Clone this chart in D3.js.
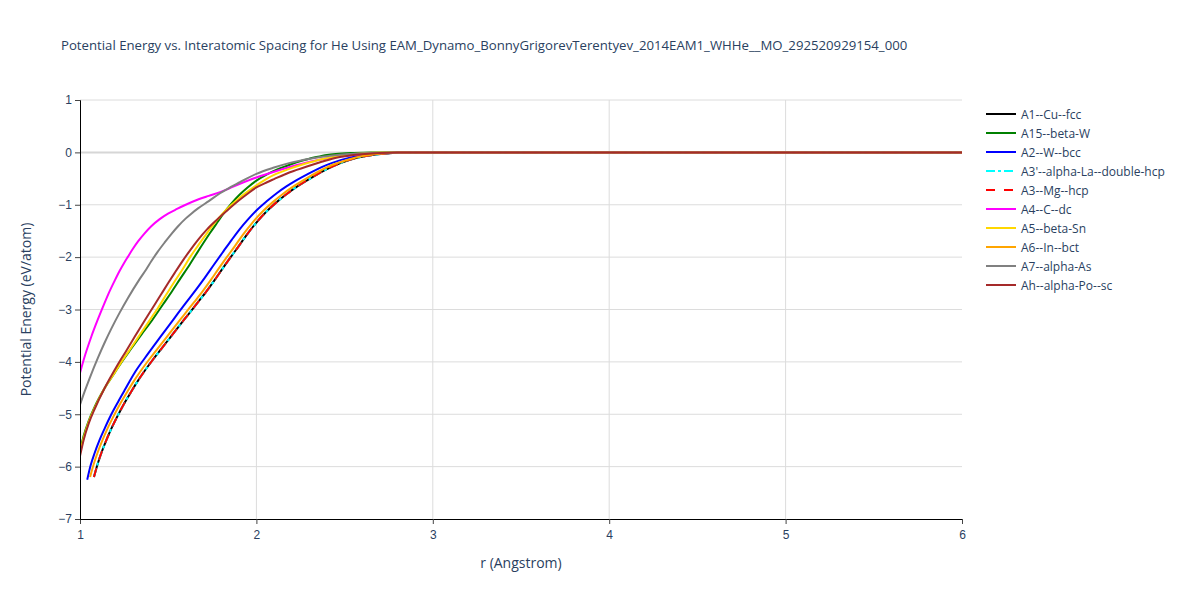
<!DOCTYPE html>
<html>
<head>
<meta charset="utf-8">
<script src="https://cdn.jsdelivr.net/npm/d3@7"></script>
<style>
  body { margin: 0; background: #fff; }
  svg { display: block; font-family: "Open Sans", verdana, arial, sans-serif; }
</style>
</head>
<body>
<div id="graph"></div>
<script>
// values
const title = 'Potential Energy vs. Interatomic Spacing for He Using EAM_Dynamo_BonnyGrigorevTerentyev_2014EAM1_WHHe__MO_292520929154_000'
const xTicks = [1, 2, 3, 4, 5, 6]
const yTicks = [1, 0, -1, -2, -3, -4, -5, -6, -7]

// A1, A3 and A3' lie on top of each other
const rA3 = [1.079, 1.10, 1.121, 1.15, 1.177, 1.215, 1.253, 1.29, 1.319, 1.367, 1.415, 1.461, 1.51, 1.556, 1.61, 1.669, 1.72, 1.765, 1.81, 1.85, 1.90, 1.944, 2.0, 2.06, 2.115, 2.17, 2.228, 2.304, 2.37, 2.43, 2.53, 2.62, 2.72, 2.85, 6.0]
const eA3 = [-6.2, -5.95, -5.74, -5.49, -5.28, -5.02, -4.78, -4.57, -4.41, -4.17, -3.95, -3.75, -3.54, -3.34, -3.11, -2.86, -2.64, -2.43, -2.21, -2.02, -1.79, -1.58, -1.34, -1.12, -0.95, -0.8, -0.66, -0.5, -0.37, -0.27, -0.14, -0.07, -0.025, 0, 0]

const rA2 = [1.041, 1.06, 1.083, 1.11, 1.14, 1.175, 1.215, 1.25, 1.28, 1.315, 1.367, 1.415, 1.461, 1.51, 1.556, 1.61, 1.66, 1.708, 1.76, 1.813, 1.86, 1.907, 1.95, 2.0, 2.06, 2.115, 2.17, 2.228, 2.304, 2.37, 2.43, 2.53, 2.62, 2.72, 2.85, 6.0]
const eA2 = [-6.25, -5.98, -5.74, -5.5, -5.27, -5.02, -4.77, -4.56, -4.38, -4.18, -3.93, -3.71, -3.5, -3.28, -3.07, -2.83, -2.61, -2.39, -2.14, -1.89, -1.67, -1.46, -1.29, -1.11, -0.93, -0.78, -0.65, -0.53, -0.39, -0.28, -0.2, -0.1, -0.05, -0.02, 0, 0]

const rA6 = [1.057, 1.078, 1.099, 1.128, 1.155, 1.193, 1.231, 1.268, 1.297, 1.345, 1.393, 1.439, 1.488, 1.534, 1.588, 1.647, 1.698, 1.743, 1.788, 1.828, 1.878, 1.922, 1.978, 2.038, 2.093, 2.148, 2.206, 2.282, 2.35, 2.41, 2.51, 2.60, 2.70, 2.83, 6.0]
const eA6 = [-6.2, -5.95, -5.74, -5.49, -5.28, -5.02, -4.78, -4.57, -4.41, -4.17, -3.95, -3.75, -3.54, -3.34, -3.11, -2.86, -2.64, -2.43, -2.21, -2.02, -1.79, -1.58, -1.34, -1.12, -0.95, -0.8, -0.66, -0.5, -0.37, -0.27, -0.15, -0.07, -0.025, 0, 0]

const rA15 = [1.0, 1.02, 1.05, 1.083, 1.14, 1.19, 1.235, 1.29, 1.348, 1.41, 1.471, 1.52, 1.565, 1.624, 1.669, 1.737, 1.78, 1.813, 1.86, 1.907, 1.95, 2.0, 2.06, 2.115, 2.17, 2.228, 2.29, 2.34, 2.4, 2.45, 2.55, 2.65, 6.0]
const eA15 = [-5.7, -5.42, -5.12, -4.86, -4.5, -4.24, -4.01, -3.75, -3.48, -3.2, -2.9, -2.66, -2.43, -2.13, -1.89, -1.54, -1.33, -1.17, -0.97, -0.8, -0.67, -0.54, -0.42, -0.33, -0.26, -0.19, -0.13, -0.09, -0.05, -0.03, -0.01, 0, 0]

const rAh = [1.0, 1.02, 1.05, 1.083, 1.14, 1.177, 1.216, 1.26, 1.31, 1.365, 1.423, 1.46, 1.499, 1.537, 1.58, 1.624, 1.669, 1.72, 1.775, 1.831, 1.9, 1.95, 2.0, 2.06, 2.1, 2.19, 2.304, 2.37, 2.43, 2.55, 2.7, 2.8, 6.0]
const eAh = [-5.8, -5.5, -5.17, -4.9, -4.5, -4.27, -4.04, -3.8, -3.52, -3.22, -2.91, -2.71, -2.5, -2.3, -2.08, -1.87, -1.67, -1.47, -1.29, -1.12, -0.92, -0.79, -0.67, -0.57, -0.51, -0.38, -0.25, -0.18, -0.12, -0.05, -0.01, 0, 0]

const rA5 = [1.0, 1.02, 1.05, 1.083, 1.14, 1.19, 1.235, 1.29, 1.348, 1.41, 1.442, 1.49, 1.537, 1.58, 1.624, 1.669, 1.72, 1.775, 1.831, 1.9, 1.95, 2.0, 2.06, 2.1, 2.19, 2.304, 2.37, 2.43, 2.55, 2.7, 6.0]
const eA5 = [-5.75, -5.46, -5.14, -4.88, -4.5, -4.24, -4.0, -3.73, -3.44, -3.13, -2.97, -2.71, -2.46, -2.24, -2.0, -1.78, -1.54, -1.3, -1.09, -0.88, -0.75, -0.63, -0.5, -0.43, -0.31, -0.19, -0.13, -0.09, -0.03, 0, 0]

const rA4 = [1.0, 1.03, 1.064, 1.10, 1.13, 1.16, 1.1966, 1.225, 1.25, 1.272, 1.3, 1.329, 1.365, 1.404, 1.45, 1.499, 1.55, 1.593, 1.669, 1.73, 1.794, 1.85, 1.9, 2.0, 2.1, 2.19, 2.304, 2.43, 2.55, 2.7, 2.85, 6.0]
const eA4 = [-4.21, -3.86, -3.52, -3.2, -2.95, -2.71, -2.45, -2.26, -2.11, -1.99, -1.84, -1.7, -1.55, -1.41, -1.28, -1.17, -1.08, -1.01, -0.9, -0.83, -0.76, -0.68, -0.61, -0.48, -0.37, -0.28, -0.18, -0.1, -0.05, -0.015, 0, 0]

const rA7 = [1.0, 1.027, 1.055, 1.102, 1.14, 1.177, 1.225, 1.272, 1.338, 1.376, 1.404, 1.44, 1.48, 1.52, 1.556, 1.6, 1.631, 1.669, 1.73, 1.794, 1.85, 1.9, 1.95, 2.0, 2.1, 2.19, 2.304, 2.43, 2.55, 2.7, 2.85, 6.0]
const eA7 = [-4.82, -4.56, -4.31, -3.92, -3.63, -3.37, -3.06, -2.78, -2.42, -2.23, -2.08, -1.9, -1.72, -1.55, -1.41, -1.26, -1.17, -1.07, -0.93, -0.78, -0.67, -0.58, -0.49, -0.41, -0.29, -0.2, -0.12, -0.06, -0.025, -0.005, 0, 0]

const names = ['A1--Cu--fcc', 'A15--beta-W', 'A2--W--bcc', "A3'--alpha-La--double-hcp", 'A3--Mg--hcp',
  'A4--C--dc', 'A5--beta-Sn', 'A6--In--bct', 'A7--alpha-As', 'Ah--alpha-Po--sc']
const colours = ['#000000', '#008000', '#0000ff', '#00ffff', '#ff0000', '#ff00ff', '#ffd700', '#ffa500', '#808080', '#a52a2a']
const dashes = [null, null, null, '9,3,3,3', '9,9', null, null, null, null, null]
const rs = [rA3, rA15, rA2, rA3, rA3, rA4, rA5, rA6, rA7, rAh]
const es = [eA3, eA15, eA2, eA3, eA3, eA4, eA5, eA6, eA7, eAh]

const width = 1200, height = 600
const margin = { left: 80, right: 238, top: 100, bottom: 81 }
const w = width - margin.left - margin.right
const h = height - margin.top - margin.bottom
const textCol = '#2a3f5f'

const svg = d3.select('#graph').append('svg')
    .attr('width', width)
    .attr('height', height)

const x = d3.scaleLinear().domain([1, 6]).range([0, w])
const y = d3.scaleLinear().domain([-7, 1]).range([h, 0])

const g = svg.append('g').attr('transform', 'translate(' + margin.left + ',' + margin.top + ')')

// grid
g.selectAll('.vgrid').data(xTicks.slice(1, -1)).enter().append('line')
    .attr('x1', d => x(d)).attr('x2', d => x(d))
    .attr('y1', 0).attr('y2', h)
    .attr('stroke', '#dcdcdc').attr('stroke-width', 1)
g.selectAll('.hgrid').data(yTicks.filter(d => d !== 0 && d !== -7)).enter().append('line')
    .attr('x1', 0).attr('x2', w)
    .attr('y1', d => y(d)).attr('y2', d => y(d))
    .attr('stroke', '#dcdcdc').attr('stroke-width', 1)
g.append('line')
    .attr('x1', 0).attr('x2', w)
    .attr('y1', y(0)).attr('y2', y(0))
    .attr('stroke', '#d6d6d6').attr('stroke-width', 2)

// curves
const clip = svg.append('clipPath').attr('id', 'clip')
clip.append('rect').attr('width', w).attr('height', h)

const line = d3.line()
    .x(d => x(d[0]))
    .y(d => y(d[1]))
    .curve(d3.curveMonotoneX)

const lines = g.append('g').attr('clip-path', 'url(#clip)')
names.forEach((n, i) => {
    const pts = rs[i].map((r, j) => [r, es[i][j]])
    lines.append('path')
        .datum(pts)
        .attr('d', line)
        .attr('fill', 'none')
        .attr('stroke', colours[i])
        .attr('stroke-width', 2)
        .attr('stroke-dasharray', dashes[i])
        .attr('stroke-linejoin', 'round')
})

// axes
const xAxis = d3.axisBottom(x).tickValues(xTicks).tickSize(5).tickPadding(6).tickFormat(d3.format('d'))
const xMinor = d3.axisBottom(x).tickValues(d3.range(1, 6.01, 0.2)).tickSize(5).tickFormat('')
const yAxis = d3.axisLeft(y).tickValues(yTicks).tickSize(5).tickPadding(3).tickFormat(d => d < 0 ? '\u2212' + Math.abs(d) : d)
const yMinor = d3.axisLeft(y).tickValues(d3.range(-7, 1.01, 0.2)).tickSize(4).tickFormat('')

const gx = g.append('g').attr('transform', 'translate(0,' + h + ')')
gx.call(xMinor)
gx.call(xAxis)
const gy = g.append('g')
gy.call(yMinor)
gy.call(yAxis)
g.selectAll('.domain').attr('stroke', '#000').attr('stroke-width', 1)
g.selectAll('.tick line').attr('stroke', '#444')
g.selectAll('.tick text').attr('fill', textCol).style('font-size', '12px')

// titles
svg.append('text')
    .attr('x', 61).attr('y', 50)
    .attr('fill', textCol)
    .style('font-size', '13.2px')
    .text(title)

svg.append('text')
    .attr('x', margin.left + w / 2).attr('y', 568)
    .attr('text-anchor', 'middle')
    .attr('fill', textCol)
    .style('font-size', '14px')
    .text('r (Angstrom)')

svg.append('text')
    .attr('transform', 'translate(31,' + (margin.top + h / 2) + ') rotate(-90)')
    .attr('text-anchor', 'middle')
    .attr('fill', textCol)
    .style('font-size', '14px')
    .text('Potential Energy (eV/atom)')

// legend
const legend = svg.append('g').attr('transform', 'translate(986,114)')
names.forEach((n, i) => {
    const row = legend.append('g').attr('transform', 'translate(0,' + i * 19 + ')')
    row.append('line')
        .attr('x1', 0).attr('x2', 30)
        .attr('stroke', colours[i])
        .attr('stroke-width', 2)
        .attr('stroke-dasharray', dashes[i])
    row.append('text')
        .attr('x', 35).attr('y', 4.5)
        .attr('fill', textCol)
        .style('font-size', '12px')
        .text(n)
})
</script>
</body>
</html>
